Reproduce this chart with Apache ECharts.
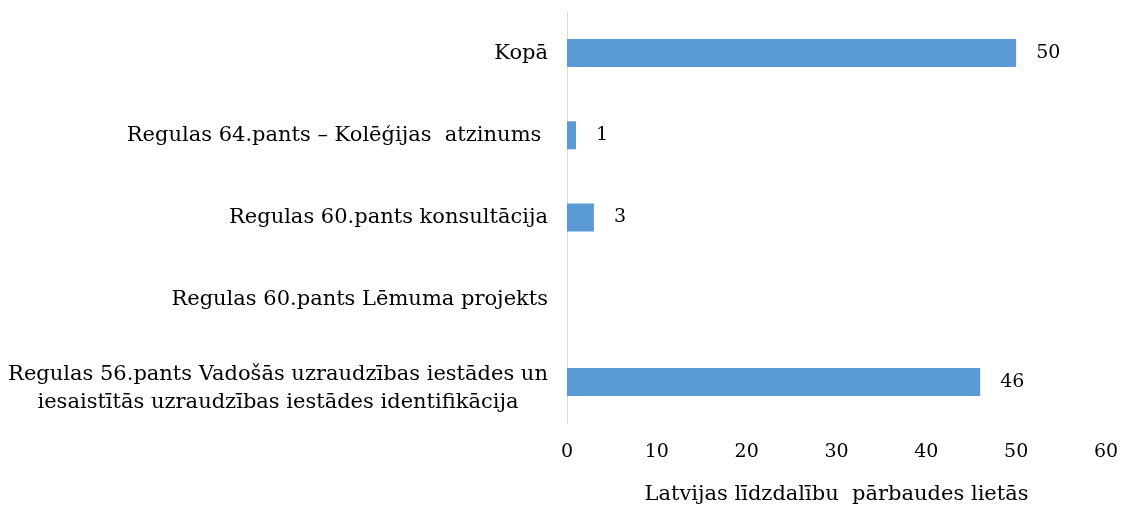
<!DOCTYPE html>
<html>
<head>
<meta charset="utf-8">
<script src="https://cdn.jsdelivr.net/npm/echarts@6/dist/echarts.min.js"></script>
<style>
  html, body { margin: 0; padding: 0; background: #fff; }
  #chart { width: 1124px; height: 507px; }
</style>
</head>
<body>
<div id="chart"></div>
<script>
// kategorijas no apakšas uz augšu
var categories = [
    "Regulas 56.pants Vadošās uzraudzības iestādes un\niesaistītās uzraudzības iestādes identifikācija",
    "Regulas 60.pants Lēmuma projekts",
    "Regulas 60.pants konsultācija",
    "Regulas 64.pants – Kolēģijas  atzinums ",
    "Kopā"
];
var values = [46, null, 3, 1, 50];
var xTicks = [0, 10, 20, 30, 40, 50, 60];
var axisTitle = "Latvijas līdzdalību  pārbaudes lietās";

var FONT = "'DejaVu Serif', 'Liberation Serif', serif";
var FS = 19;      // skaitļi
var FS_CAT = 21;  // kategoriju nosaukumi

function catLabel(v) {
    // garais nosaukums ir centrēts pa rindām
    if (v.indexOf("\n") >= 0) {
        return v.split("\n").map(function (l) { return "{c|" + l + "}"; }).join("\n");
    }
    return v;
}

// divrindu nosaukums nedaudz zemāk, kā oriģinālā
var yData = categories.map(function (c) {
    if (c.indexOf("\n") >= 0) {
        return { value: c, textStyle: { padding: [14, 0, 0, 0] } };
    }
    return c;
});

var myChart = echarts.init(document.getElementById("chart"));
myChart.setOption({
    animation: false,
    grid: { left: 567, right: 18, top: 12, bottom: 84, containLabel: false, outerBoundsMode: "none" },
    xAxis: {
        type: "value",
        min: xTicks[0],
        max: xTicks[xTicks.length - 1],
        interval: 10,
        axisLine: { show: false },
        axisTick: { show: false },
        splitLine: { show: false },
        axisLabel: { color: "#000", fontFamily: FONT, fontSize: FS, margin: 20 },
        name: axisTitle,
        nameLocation: "middle",
        nameGap: 61,
        nameTextStyle: { color: "#000", fontFamily: FONT, fontSize: FS_CAT }
    },
    yAxis: {
        type: "category",
        data: yData,
        axisLine: { show: true, lineStyle: { color: "#d9d9d9", width: 1 } },
        axisTick: { show: false },
        axisLabel: {
            color: "#000", fontFamily: FONT, fontSize: FS_CAT, margin: 19, lineHeight: 28,
            formatter: catLabel,
            rich: { c: { width: 540, align: "center", fontFamily: FONT, fontSize: FS_CAT, color: "#000", lineHeight: 28 } }
        }
    },
    series: [{
        type: "bar",
        data: values,
        barWidth: 28,
        itemStyle: { color: "#5b9bd5" },
        label: {
            show: true, position: "right", distance: 20,
            color: "#000", fontFamily: FONT, fontSize: FS
        }
    }]
});
</script>
</body>
</html>
